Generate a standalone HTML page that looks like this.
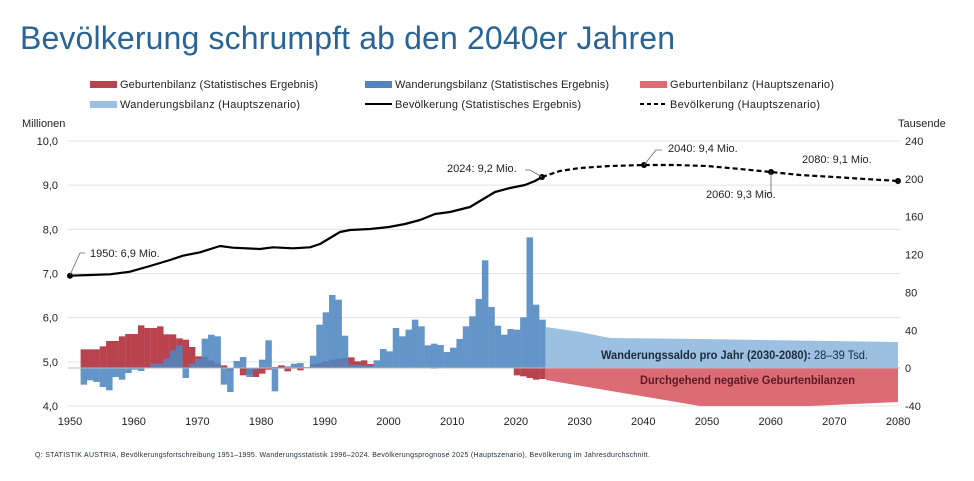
<!DOCTYPE html>
<html><head><meta charset="utf-8">
<style>
html,body{margin:0;padding:0;background:#fff;width:974px;height:481px;overflow:hidden}
svg{display:block;font-family:"Liberation Sans",sans-serif}
</style></head><body>
<svg id="s" width="974" height="481" viewBox="0 0 974 481">
<text x="20" y="49" font-size="32" fill="#2a6496" textLength="655">Bevölkerung schrumpft ab den 2040er Jahren</text>
<g font-size="11" fill="#222">
<rect x="90" y="81" width="27" height="7" fill="#b8434f"/><text x="120" y="88" textLength="198">Geburtenbilanz (Statistisches Ergebnis)</text>
<rect x="365" y="81" width="27" height="7" fill="#4f86c0"/><text x="395" y="88" textLength="214">Wanderungsbilanz (Statistisches Ergebnis)</text>
<rect x="640" y="81" width="27" height="7" fill="#dc6b75"/><text x="670" y="88" textLength="164">Geburtenbilanz (Hauptszenario)</text>
<rect x="90" y="101" width="27" height="7" fill="#9cc0e1"/><text x="120" y="108" textLength="180">Wanderungsbilanz (Hauptszenario)</text>
<line x1="365" y1="104" x2="392" y2="104" stroke="#000" stroke-width="2"/><text x="395" y="108" textLength="186">Bevölkerung (Statistisches Ergebnis)</text>
<line x1="640" y1="104" x2="667" y2="104" stroke="#000" stroke-width="2" stroke-dasharray="4,3"/><text x="670" y="108" textLength="150">Bevölkerung (Hauptszenario)</text>
<text x="22" y="127">Millionen</text>
<text x="898" y="127">Tausende</text>
</g>
<g id="grid" stroke="#e3e3e3" stroke-width="1"></g>
<g id="bars"></g>
<g id="lbl" font-size="11" fill="#222"></g>
</svg>
<script>
const s=document.getElementById('s'),NS='http://www.w3.org/2000/svg';
function el(p,t,a,txt){const e=document.createElementNS(NS,t);for(const k in a)e.setAttribute(k,a[k]);if(txt!=null)e.textContent=txt;p.appendChild(e);return e;}
const g=document.getElementById('grid'),b=document.getElementById('bars'),L=document.getElementById('lbl');
const vals=['10,0','9,0','8,0','7,0','6,0','5,0','4,0'];
for(let i=0;i<7;i++){const y=141+i*44.17;el(g,'line',{x1:68,x2:900,y1:y,y2:y});el(L,'text',{x:58,y:y+4,'text-anchor':'end'},vals[i]);}
const rv=[240,200,160,120,80,40,0,-40];
for(let i=0;i<8;i++){const y=141+i*37.86;el(L,'text',{x:905,y:y+4},rv[i]);}
for(let yr=1950;yr<=2080;yr+=10){el(L,'text',{x:70+(yr-1950)*6.37,y:425,'text-anchor':'middle'},yr);}
const Z=368;
el(b,'polygon',{points:`546,${Z} 546,327 580,332 610,338 700,339 898,342 898,${Z}`,fill:'#9cc0e1'});
el(b,'polygon',{points:`546,${Z} 546,380 700,406 810,406 898,402 898,${Z}`,fill:'#dc6b75'});
const red=[56,56,56,65,81,81,95,102,102,128,120,120,125,101,101,89,85,63,35,33,23,13,8,-7,3,-22,-20,-27,-17,-5,3,8,-10,-2,-7,0,
12,15,20,25,28,30,32,20,23,12,2,2,1,1,0,0,0,0,0,-2,0,0,0,0,0,0,0,0,0,0,0,0,-22,-25,-30,-35,-33];
const blue=[-50,-37,-42,-57,-67,-27,-35,-15,-5,-9,3,13,13,28,53,68,-30,13,28,88,100,95,-50,-72,21,33,-27,-5,25,83,-70,-2,5,13,15,3,
37,130,167,219,205,97,10,10,8,8,23,57,50,120,95,115,145,125,68,73,69,48,61,87,125,155,207,323,183,127,100,117,115,152,392,190,145];
for(let i=0;i<red.length;i++){const x=80.6+i*6.37,h=red[i]/3;el(b,'rect',{x:x,width:6.5,y:h>0?Z-h:Z,height:Math.abs(h),fill:'#b8434f'});}
for(let i=0;i<blue.length;i++){const x=80.6+i*6.37,h=blue[i]/3;el(b,'rect',{x:x,width:6.5,y:h>0?Z-h:Z,height:Math.abs(h),fill:'#4f86c0','fill-opacity':0.88});}
el(b,'line',{x1:68,x2:900,y1:Z,y2:Z,stroke:'#bbb'});
const hist=[[70,275.7],[90,275],[110,274.3],[130,271.7],[150,266],[170,260],[183,255.7],[200,252.3],[220,246],[233,247.7],[260,249],[273,247.3],[293,248.3],[310,247.3],[320,244],[330,238],[340,232],[350,230],[370,229],[389,227],[405,224],[420,220],[435,214],[450,212],[470,207],[485,198],[495,192],[510,188],[525,185],[535,181],[542,177]];
el(b,'polyline',{points:hist.map(p=>p.join(',')).join(' '),fill:'none',stroke:'#000','stroke-width':2.2,'stroke-linejoin':'round'});
const sc=[[542,177],[560,171],[580,168],[610,166],[644,165],[675,165],[707,166],[740,169],[771,172],[800,175],[834,177],[865,179],[898,181]];
el(b,'polyline',{points:sc.map(p=>p.join(',')).join(' '),fill:'none',stroke:'#000','stroke-width':2.2,'stroke-dasharray':'5,3'});
[[70,275.7],[542,177],[644,165],[771,172],[898,181]].forEach(p=>el(b,'circle',{cx:p[0],cy:p[1],r:3,fill:'#000'}));
const ld=[[70,275,80,253,85,253],[542,177,530,170,525,170],[644,165,656,150,662,150],[771,172,771,193,765,193]];
ld.forEach(a=>el(b,'polyline',{points:`${a[0]},${a[1]} ${a[2]},${a[3]} ${a[4]},${a[5]}`,fill:'none',stroke:'#666','stroke-width':0.8}));
el(L,'text',{x:90,y:257},'1950: 6,9 Mio.');
el(L,'text',{x:447,y:172},'2024: 9,2 Mio.');
el(L,'text',{x:668,y:152},'2040: 9,4 Mio.');
el(L,'text',{x:706,y:198},'2060: 9,3 Mio.');
el(L,'text',{x:802,y:163},'2080: 9,1 Mio.');
const t1=el(L,'text',{x:601,y:359,'font-size':12,fill:'#1c2a3a',textLength:267,lengthAdjust:'spacingAndGlyphs'});
el(t1,'tspan',{'font-weight':'bold'},'Wanderungssaldo pro Jahr (2030-2080):');el(t1,'tspan',{},' 28–39 Tsd.');
el(L,'text',{x:640,y:384,'font-size':12,'font-weight':'bold',fill:'#5a1a22',textLength:215,lengthAdjust:'spacingAndGlyphs'},'Durchgehend negative Geburtenbilanzen');
el(L,'text',{x:35,y:457,'font-size':7,fill:'#1c2a3a',textLength:615},'Q: STATISTIK AUSTRIA, Bevölkerungsfortschreibung 1951–1995. Wanderungsstatistik 1996–2024. Bevölkerungsprognose 2025 (Hauptszenario), Bevölkerung im Jahresdurchschnitt.');
</script>
</body></html>
